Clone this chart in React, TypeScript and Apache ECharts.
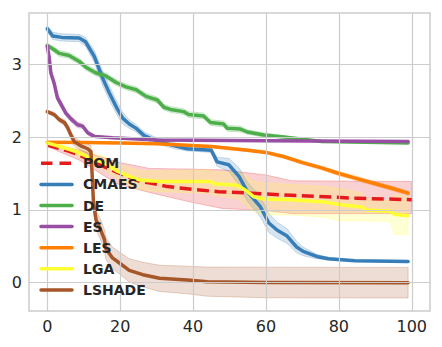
import React, { useEffect, useRef } from "react";
import * as echarts from "echarts";

const seriesNames = ["POM", "CMAES", "DE", "ES", "LES", "LGA", "LSHADE"];
const seriesColors = ["#e41a1c", "#377eb8", "#4daf4a", "#984ea3", "#ff7f00", "#ffff33", "#a65628"];
const xTicks = [0, 20, 40, 60, 80, 100];
const yTicks = [0, 1, 2, 3];

// POM (mean line + separate band)
const pomX = [0, 5, 9, 14, 19, 25.5, 28.3, 33, 40, 47, 56, 67, 85, 100];
const pomY = [1.89, 1.82, 1.75, 1.63, 1.52, 1.39, 1.37, 1.32, 1.28, 1.25, 1.23, 1.2, 1.16, 1.14];
const pomBandX = [0, 9, 19, 28, 40, 48, 60, 67, 100];
const pomBandLo = [1.87, 1.68, 1.36, 1.24, 1.1, 1.02, 0.99, 0.95, 0.95];
const pomBandHi = [1.91, 1.82, 1.66, 1.57, 1.56, 1.55, 1.48, 1.4, 1.39];

// CMAES
const cmaesX = [0, 1.5, 4, 8.8, 10.5, 12.9, 15.2, 17, 19.3, 20.7, 22.5, 24.4, 26.6, 30, 35, 38.4, 45, 46.6, 49.8, 52.6, 54.9, 58.5, 60.8, 63.1, 65.8, 68.4, 70.2, 73.9, 77.1, 84.4, 99];
const cmaesY = [3.49, 3.39, 3.37, 3.36, 3.31, 3.11, 2.81, 2.61, 2.38, 2.26, 2.18, 2.12, 2.02, 1.95, 1.88, 1.84, 1.82, 1.66, 1.62, 1.46, 1.25, 1.04, 0.82, 0.72, 0.64, 0.49, 0.43, 0.36, 0.33, 0.3, 0.29];
const cmaesErr = [0.04, 0.05, 0.05, 0.05, 0.06, 0.08, 0.1, 0.1, 0.09, 0.08, 0.06, 0.05, 0.05, 0.04, 0.04, 0.03, 0.03, 0.06, 0.09, 0.12, 0.13, 0.14, 0.13, 0.11, 0.1, 0.08, 0.06, 0.03, 0.02, 0.01, 0.01];

// DE
const deX = [0, 1.9, 3.3, 6, 8.8, 10.6, 13.4, 16.1, 18.9, 21.6, 24.4, 27.1, 30.2, 32, 33.8, 37.4, 38.8, 42.9, 44.8, 48.4, 49.4, 53, 54.9, 59.4, 64.9, 70, 75.3, 99];
const deY = [3.26, 3.2, 3.15, 3.12, 3.04, 2.96, 2.88, 2.84, 2.75, 2.69, 2.65, 2.56, 2.51, 2.41, 2.38, 2.35, 2.31, 2.29, 2.2, 2.18, 2.12, 2.11, 2.07, 2.03, 2.0, 1.97, 1.94, 1.92];
const deErr = [0.03, 0.04, 0.04, 0.04, 0.04, 0.04, 0.04, 0.04, 0.04, 0.04, 0.04, 0.04, 0.04, 0.04, 0.04, 0.04, 0.04, 0.04, 0.04, 0.04, 0.04, 0.04, 0.03, 0.03, 0.02, 0.02, 0.01, 0.01];

// ES
const esX = [0, 0.5, 1, 1.9, 2.8, 3.8, 5.1, 6.5, 8.3, 9.7, 11.1, 12.9, 17.9, 30, 60, 99];
const esY = [3.25, 3.11, 2.88, 2.74, 2.54, 2.45, 2.33, 2.25, 2.17, 2.15, 2.06, 2.01, 1.99, 1.96, 1.95, 1.94];
const esErr = [0.03, 0.04, 0.05, 0.05, 0.05, 0.05, 0.04, 0.04, 0.04, 0.03, 0.03, 0.02, 0.01, 0.01, 0.01, 0.01];

// LES
const lesX = [0, 10, 20, 30, 45, 55, 60, 65, 70, 75, 80, 85, 90, 95, 99];
const lesY = [1.93, 1.925, 1.92, 1.91, 1.87, 1.82, 1.79, 1.73, 1.65, 1.58, 1.5, 1.43, 1.36, 1.29, 1.23];
const lesErr = [0.01, 0.01, 0.01, 0.01, 0.015, 0.02, 0.02, 0.02, 0.025, 0.025, 0.03, 0.03, 0.03, 0.03, 0.03];

// LGA
const lgaX = [0, 4.2, 7.9, 11.5, 15.5, 18.9, 22.5, 25.5, 30.8, 44.8, 45.7, 52.1, 54.4, 56.7, 59.4, 66.8, 75.9, 80.5, 86.4, 87.4, 94.2, 95.1, 99];
const lgaY = [1.92, 1.86, 1.8, 1.72, 1.65, 1.54, 1.46, 1.41, 1.39, 1.39, 1.36, 1.34, 1.27, 1.18, 1.15, 1.14, 1.11, 1.07, 1.04, 1.0, 0.98, 0.94, 0.92];
const lgaErr = [0.01, 0.03, 0.05, 0.07, 0.09, 0.1, 0.12, 0.13, 0.14, 0.16, 0.16, 0.18, 0.2, 0.21, 0.22, 0.21, 0.21, 0.22, 0.19, 0.15, 0.14, 0.27, 0.26];

// LSHADE
const lshadeX = [0, 1.9, 3.3, 4.7, 5.6, 6.5, 7.4, 9.2, 11.1, 12, 12.4, 12.7, 13.4, 14.7, 15.7, 16.1, 17.9, 19.8, 22.5, 26.2, 30.8, 38.4, 43.9, 60, 99];
const lshadeY = [2.35, 2.31, 2.24, 2.2, 2.13, 2.03, 1.94, 1.88, 1.84, 1.8, 1.4, 1.09, 0.86, 0.72, 0.59, 0.47, 0.34, 0.27, 0.17, 0.11, 0.06, 0.037, 0.014, 0.003, 0.0];
const lshadeErr = [0.02, 0.03, 0.03, 0.04, 0.05, 0.05, 0.06, 0.06, 0.07, 0.08, 0.1, 0.12, 0.13, 0.14, 0.14, 0.15, 0.15, 0.15, 0.16, 0.17, 0.18, 0.19, 0.2, 0.21, 0.21];

const lineXs = [pomX, cmaesX, deX, esX, lesX, lgaX, lshadeX];
const lineYs = [pomY, cmaesY, deY, esY, lesY, lgaY, lshadeY];
const errs = [null, cmaesErr, deErr, esErr, lesErr, lgaErr, lshadeErr];

function hexToRgba(hex: string, a: number) {
  const r = parseInt(hex.slice(1, 3), 16);
  const g = parseInt(hex.slice(3, 5), 16);
  const b = parseInt(hex.slice(5, 7), 16);
  return `rgba(${r},${g},${b},${a})`;
}

function bandSeries(name: string, xs: number[], lo: number[], hi: number[], color: string) {
  return {
    type: "custom",
    name: name + " band",
    silent: true,
    clip: true,
    data: [[xs[0], lo[0]]],
    renderItem: (_params: any, api: any) => {
      const pts: number[][] = [];
      for (let i = 0; i < xs.length; i++) pts.push(api.coord([xs[i], hi[i]]));
      for (let i = xs.length - 1; i >= 0; i--) pts.push(api.coord([xs[i], lo[i]]));
      return {
        type: "polygon",
        shape: { points: pts },
        style: { fill: hexToRgba(color, 0.2), stroke: hexToRgba(color, 0.25), lineWidth: 1 },
      };
    },
  };
}

export default function App() {
  const ref = useRef<HTMLDivElement>(null);
  useEffect(() => {
    if (!ref.current) return;
    const chart = echarts.init(ref.current, undefined, { renderer: "svg" });
    const series: any[] = [];
    // grid lines
    series.push({
      type: "line",
      name: "grid",
      data: [[0, 0]],
      symbol: "none",
      silent: true,
      lineStyle: { opacity: 0 },
      markLine: {
        silent: true,
        symbol: "none",
        animation: false,
        label: { show: false },
        lineStyle: { color: "#cccccc", width: 1.2, type: "solid" },
        data: [...xTicks.map((v) => ({ xAxis: v })), ...yTicks.map((v) => ({ yAxis: v }))],
      },
    });
    seriesNames.forEach((name, i) => {
      const xs = lineXs[i];
      const ys = lineYs[i];
      const color = seriesColors[i];
      if (i === 0) {
        series.push(bandSeries(name, pomBandX, pomBandLo, pomBandHi, color));
      } else {
        const e = errs[i] as number[];
        series.push(
          bandSeries(
            name,
            xs,
            ys.map((y, k) => y - e[k]),
            ys.map((y, k) => y + e[k]),
            color
          )
        );
      }
      series.push({
        type: "line",
        name,
        data: xs.map((x, k) => [x, ys[k]]),
        symbol: "none",
        showSymbol: false,
        clip: true,
        lineStyle: {
          color,
          width: 3.5,
          type: i === 0 ? [12, 5.5] : "solid",
          cap: i === 0 ? "butt" : "round",
          join: "round",
        },
      });
    });

    const legendGraphics: any[] = [];
    seriesNames.forEach((name, i) => {
      const yc = 163.3 + i * 21.1;
      legendGraphics.push({
        type: "line",
        z: 100,
        shape: { x1: 41, y1: yc, x2: 72, y2: yc },
        style: {
          stroke: seriesColors[i],
          lineWidth: 3.5,
          lineDash: i === 0 ? [11.5, 7] : null,
          lineCap: i === 0 ? "butt" : "round",
        },
      });
      legendGraphics.push({
        type: "text",
        z: 100,
        x: 83,
        y: yc,
        style: {
          text: name,
          fill: "#262626",
          fontFamily: "DejaVu Sans",
          fontWeight: "bold",
          fontSize: 14,
          verticalAlign: "middle",
          align: "left",
        },
      });
    });

    chart.setOption({
      animation: false,
      backgroundColor: "#ffffff",
      grid: {
        left: 29,
        top: 13,
        width: 401,
        height: 298,
        show: true,
        borderColor: "#cccccc",
        borderWidth: 1.5,
        backgroundColor: "transparent",
      },
      xAxis: {
        type: "value",
        min: -5,
        max: 105,
        axisLine: { show: false },
        axisTick: { show: false, customValues: xTicks },
        splitLine: { show: false },
        axisLabel: {
          customValues: xTicks,
          color: "#262626",
          fontSize: 16,
          fontFamily: "DejaVu Sans",
          margin: 7,
        },
      },
      yAxis: {
        type: "value",
        min: -0.389,
        max: 3.705,
        axisLine: { show: false },
        axisTick: { show: false, customValues: yTicks },
        splitLine: { show: false },
        axisLabel: {
          customValues: yTicks,
          color: "#262626",
          fontSize: 16,
          fontFamily: "DejaVu Sans",
          margin: 7,
        },
      },
      series,
      graphic: legendGraphics,
    });
    return () => chart.dispose();
  }, []);
  return (
    <div
      ref={ref}
      style={{ position: "fixed", left: 0, top: 0, width: 442, height: 347 }}
    />
  );
}
